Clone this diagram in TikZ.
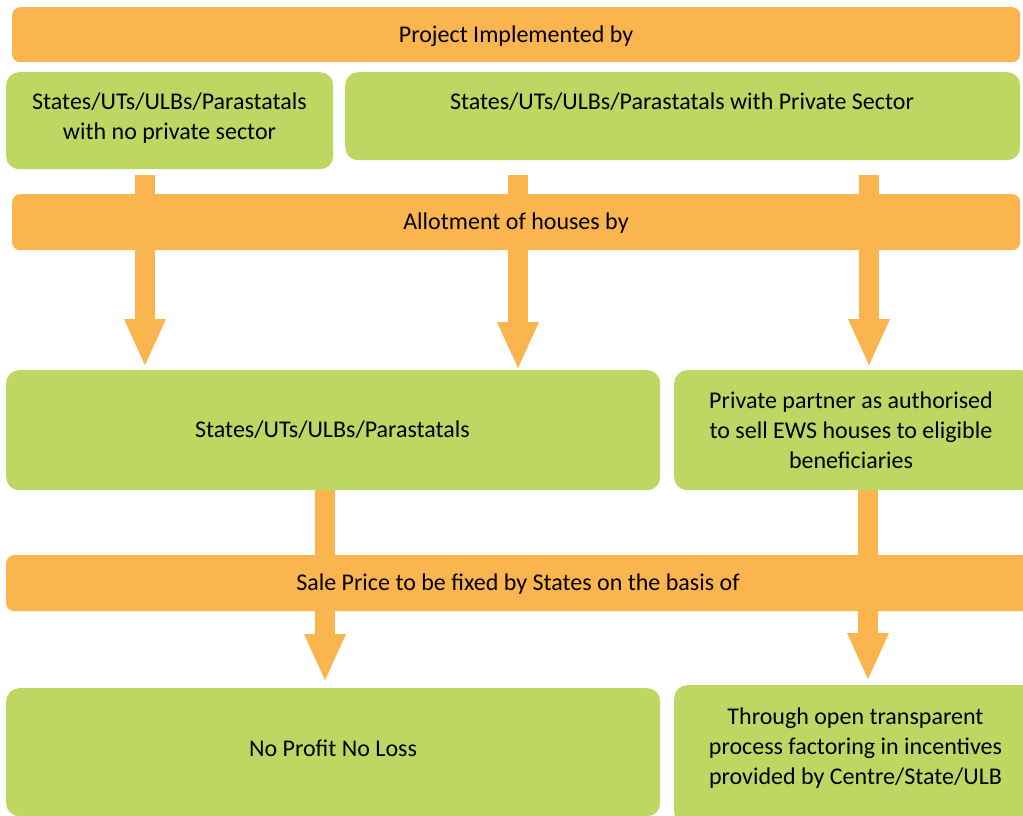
\documentclass[tikz,border=0pt]{standalone}
\usepackage{fontspec}
\setmainfont{Carlito}
\usetikzlibrary{arrows.meta}
\definecolor{orangebar}{HTML}{FBB54F}
\definecolor{greenbox}{HTML}{BDD762}
\tikzset{
  bar/.style={fill=orangebar, draw=none, rounded corners=8pt, inner sep=0pt, anchor=north west},
  gbox/.style={fill=greenbox, draw=none, rounded corners=13pt, inner sep=0pt, anchor=north west},
  txt/.style={font=\fontsize{24}{30}\selectfont, align=center, inner sep=0pt, text=black},
  blockarrow/.style={draw=orangebar, line width=20pt, -{Triangle[width=38pt,length=48pt]}},
}
\begin{document}
\begin{tikzpicture}[x=1pt,y=1pt]
\useasboundingbox (0,0) rectangle (1023,-816);
\clip (0,0) rectangle (1023,-816);
% arrow start points
\coordinate (s1) at (145,-175);
\coordinate (s2) at (518,-175);
\coordinate (s3) at (869,-175);
% bars
\node[bar, minimum width=1008pt, minimum height=55pt] (bar1) at (12,-7) {};
\node[txt] (tbar1) at (516,-36) {Project Implemented by};
% green row 1
\node[gbox, minimum width=327pt, minimum height=97pt] (b1) at (6,-72) {};
\node[txt] (t1) at (169.5,-118) {States/UTs/ULBs/Parastatals\\with no private sector};
\node[gbox, minimum width=675pt, minimum height=88pt] (b2) at (345,-72) {};
\node[txt] (t2) at (682,-102) {States/UTs/ULBs/Parastatals with Private Sector};
% row 3 boxes
\node[gbox, minimum width=654pt, minimum height=120pt] (b3) at (6,-370) {};
\node[txt] (t3) at (332.5,-430) {States/UTs/ULBs/Parastatals};
\node[gbox, minimum width=360pt, minimum height=120pt] (b4) at (674,-370) {};
\node[txt] (t4) at (851,-430) {Private partner as authorised\\to sell EWS houses to eligible\\beneficiaries};
% row 5 boxes
\node[gbox, minimum width=654pt, minimum height=128pt] (b5) at (6,-688) {};
\node[txt] (t5) at (333,-748) {No Profit No Loss};
\node[gbox, minimum width=362pt, minimum height=140pt] (b6) at (674,-685) {};
\node[txt] (t6) at (855.5,-748) {Through open transparent\\process factoring in incentives\\provided by Centre/State/ULB};
% arrows
\draw[blockarrow, shorten >=3pt] (s1) -- (b3.north -| s1);
\draw[blockarrow, shorten >=0pt] (s2) -- (b3.north -| s2);
\draw[blockarrow, shorten >=3pt] (s3) -- (b4.north -| s3);
\coordinate (s4) at (325,-490);
\coordinate (s5) at (868,-490);
\draw[blockarrow, shorten >=6pt] (s4) -- (b5.north -| s4);
\draw[blockarrow, shorten >=4pt] (s5) -- (b6.north -| s5);
% bars over arrows
\node[bar, minimum width=1008pt, minimum height=56pt] (bar2) at (12,-194) {};
\node[txt] (tbar2) at (516,-223) {Allotment of houses by};
\node[bar, minimum width=1024pt, minimum height=56pt] (bar3) at (6,-555) {};
\node[txt] (tbar3) at (518,-584) {Sale Price to be fixed by States on the basis of};
\end{tikzpicture}
\end{document}
